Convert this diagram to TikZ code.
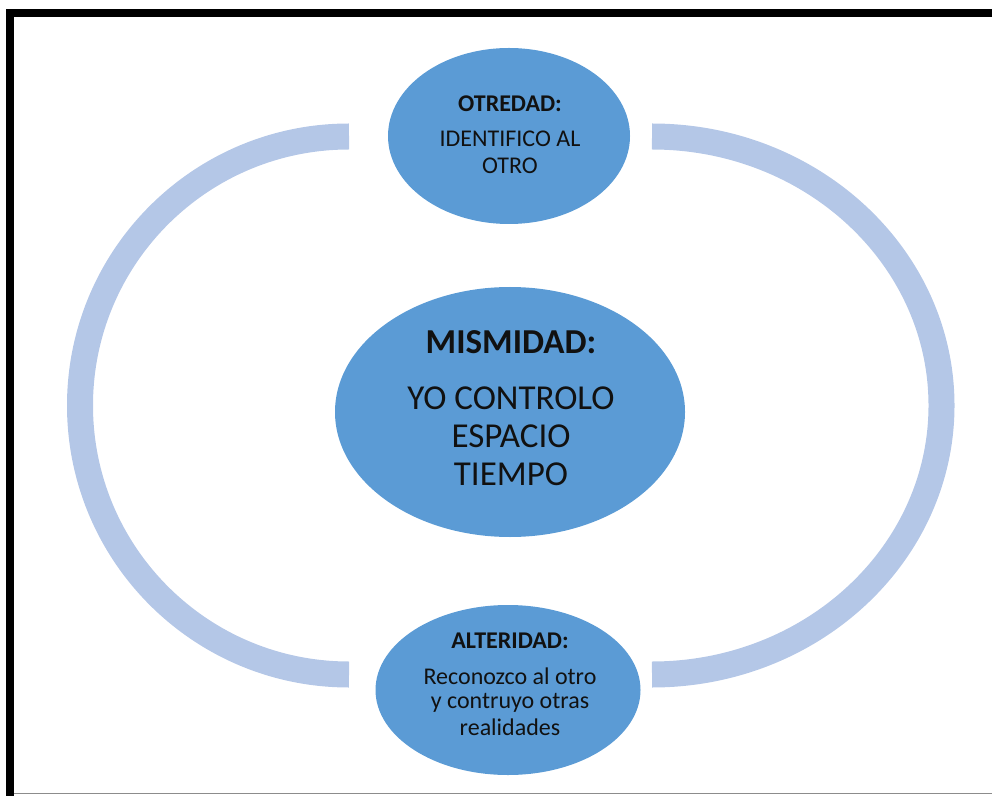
\documentclass[tikz,border=0pt]{standalone}
\usepackage{fontspec}
\setmainfont{Carlito}
\usetikzlibrary{shapes.geometric}
\definecolor{ovalblue}{HTML}{5B9BD5}
\definecolor{bandblue}{HTML}{B4C7E7}
\definecolor{txt}{HTML}{111111}
\tikzset{
  oval/.style={ellipse, fill=ovalblue, draw=none, inner sep=0pt},
  band/.style={draw=bandblue, line width=26pt, line cap=butt},
  small/.style={anchor=base, text=txt, inner sep=0pt, font=\fontsize{24}{28}\selectfont},
  big/.style={anchor=base, text=txt, inner sep=0pt, font=\fontsize{35}{40}\selectfont},
}
\begin{document}
\begin{tikzpicture}[x=1pt,y=1pt]
\useasboundingbox (0,0) rectangle (992,796);
% frame
\fill[black] (6,779) rectangle (992,787);
\fill[black] (6,0) rectangle (14,787);
\fill[black!45] (14,2) rectangle (992,3.5);
% connector bands
\coordinate (lt) at (349,659.5);
\coordinate (rt) at (652,659.5);
\draw[band] (lt) arc[start angle=90, end angle=270, radius=269];
\draw[band] (rt) arc[start angle=90, end angle=-90, x radius=289.5, y radius=269];
% ellipses
\node[oval, minimum width=242pt, minimum height=176pt] (top) at (509,660) {};
\node[oval, minimum width=350pt, minimum height=250pt] (mid) at (510,384) {};
\node[oval, minimum width=265pt, minimum height=170pt] (bot) at (508,106) {};
% texts
\node[small] (t1) at (510,684) {\bfseries OTREDAD:};
\node[small] (t2) at (510,649) {IDENTIFICO AL};
\node[small] (t3) at (510,622) {OTRO};
\node[big] (m1) at (511,442) {\bfseries MISMIDAD:};
\node[big] (m2) at (511,387) {YO CONTROLO};
\node[big] (m3) at (511,349) {ESPACIO};
\node[big] (m4) at (511,311) {TIEMPO};
\node[small] (b1) at (510,148) {\bfseries ALTERIDAD:};
\node[small] (b2) at (510,112) {Reconozco al otro};
\node[small] (b3) at (510,88) {y contruyo otras};
\node[small] (b4) at (510,61) {realidades};
\end{tikzpicture}
\end{document}
